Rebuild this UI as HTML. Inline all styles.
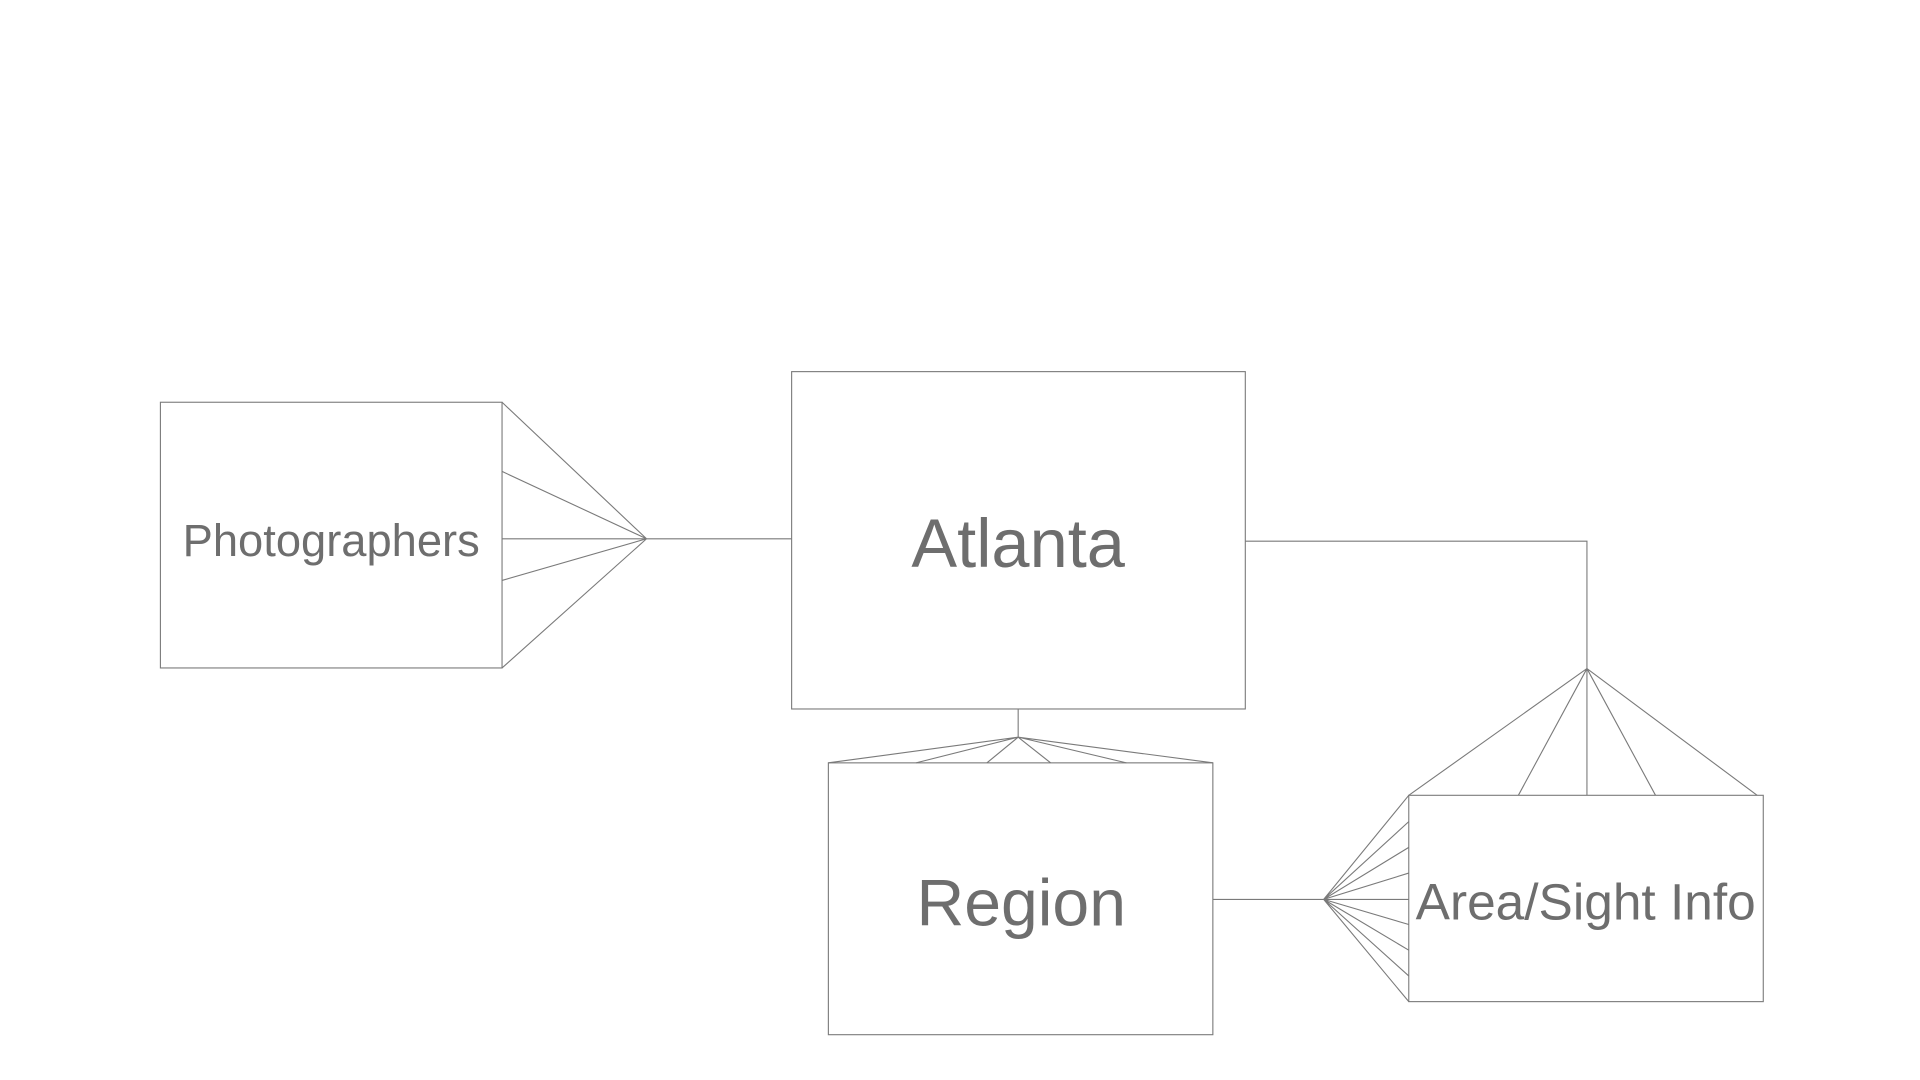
<!DOCTYPE html>
<html><head><meta charset="utf-8"><style>
html,body{margin:0;padding:0;background:#fff;width:1920px;height:1080px;overflow:hidden}
svg{display:block}
text{font-family:"Liberation Sans",Arial,sans-serif;fill:#6e6e6e}
</style></head><body>
<svg width="1920" height="1080" viewBox="0 0 1568 882" preserveAspectRatio="none">
<g fill="none" stroke="#7a7a7a" stroke-width="0.9">
<rect x="131" y="328.5" width="279" height="217"/>
<rect x="646.5" y="303.5" width="370.5" height="275.5"/>
<rect x="676.5" y="623" width="314" height="222"/>
<rect x="1150.5" y="649.5" width="289.5" height="168.5"/>
<path d="M528 440 L410 328.5 M528 440 L410 385 M528 440 L410 440 M528 440 L410 474 M528 440 L410 545.5 M528 440 L646.5 440"/>
<path d="M1017 442 L1296 442 L1296 546"/>
<path d="M1296 546 L1150.5 649.5 M1296 546 L1240 649.5 M1296 546 L1296 649.5 M1296 546 L1352 649.5 M1296 546 L1435 649.5"/>
<path d="M831.5 579 L831.5 602"/>
<path d="M831.5 602 L676.5 623 M831.5 602 L748 623 M831.5 602 L806 623 M831.5 602 L858 623 M831.5 602 L920 623 M831.5 602 L990.5 623"/>
<path d="M990.5 734.5 L1081 734.5"/>
<path d="M1081 734.5 L1150.5 649.5 M1081 734.5 L1150.5 671 M1081 734.5 L1150.5 692 M1081 734.5 L1150.5 713 M1081 734.5 L1150.5 734.5 M1081 734.5 L1150.5 755 M1081 734.5 L1150.5 776 M1081 734.5 L1150.5 797 M1081 734.5 L1150.5 818"/>
</g>
<text x="270.5" y="454" font-size="37" text-anchor="middle">Photographers</text>
<text x="831.5" y="463" font-size="56" text-anchor="middle">Atlanta</text>
<text x="834" y="756" font-size="54" text-anchor="middle">Region</text>
<text x="1295" y="751" font-size="42" text-anchor="middle">Area/Sight Info</text>
</svg>
</body></html>
